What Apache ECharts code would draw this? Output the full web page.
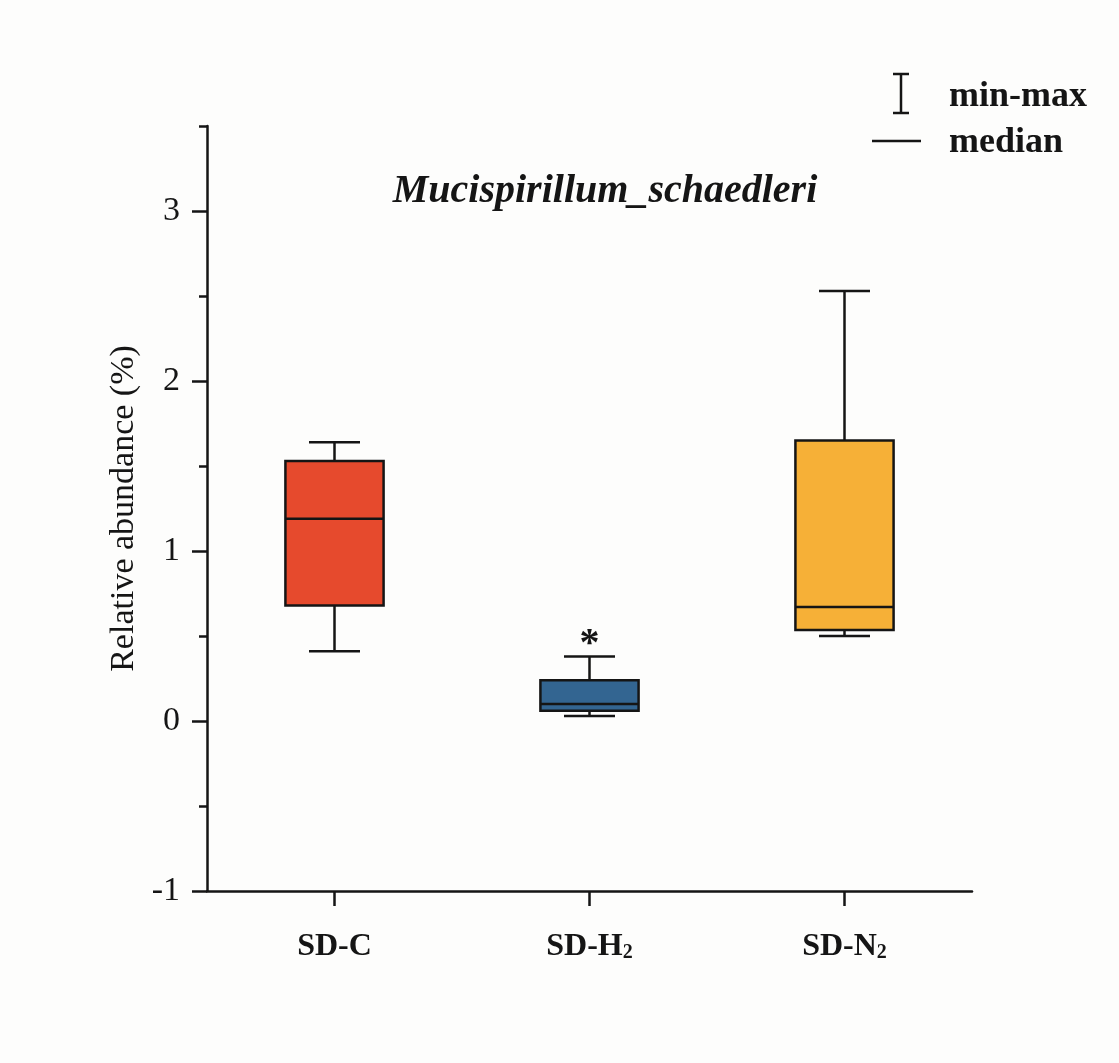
<!DOCTYPE html>
<html>
<head>
<meta charset="utf-8">
<script src="https://cdn.jsdelivr.net/npm/echarts@6/dist/echarts.min.js"></script>
<style>
html,body{margin:0;padding:0;background:#fdfdfc;}
#chart{width:1119px;height:1063px;}
</style>
</head>
<body>
<div id="chart"></div>
<script>
// ---- data ----
const categories = ['SD-C', 'SD-H2', 'SD-N2'];
const minVals    = [0.41, 0.03, 0.50];
const q1Vals     = [0.68, 0.06, 0.535];
const medianVals = [1.19, 0.10, 0.67];
const q3Vals     = [1.53, 0.24, 1.65];
const maxVals    = [1.64, 0.38, 2.53];
const significance = ['', '*', ''];
const boxColors = ['#E64A2D', '#336591', '#F6B037'];
const yMajorTicks = [-1, 0, 1, 2, 3];
const yMinorTicks = [-0.5, 0.5, 1.5, 2.5, 3.5];
const chartTitle = 'Mucispirillum_schaedleri';
const yAxisName = 'Relative abundance (%)';

const FONT = '"Liberation Serif", "Times New Roman", serif';
const INK = '#151515';

const boxData = categories.map((c, i) => [i, minVals[i], q1Vals[i], medianVals[i], q3Vals[i], maxVals[i]]);

const chart = echarts.init(document.getElementById('chart'));

function renderBox(params, api) {
  const idx = api.value(0);
  const band = api.size([1, 0])[0];
  const boxW = band * 0.385;
  const capW = band * 0.2;
  const pMin = api.coord([idx, api.value(1)]);
  const pQ1 = api.coord([idx, api.value(2)]);
  const pMed = api.coord([idx, api.value(3)]);
  const pQ3 = api.coord([idx, api.value(4)]);
  const pMax = api.coord([idx, api.value(5)]);
  const cx = pMin[0];
  const lineStyle = { stroke: INK, lineWidth: 2.5, fill: null };
  const children = [
    { type: 'line', shape: { x1: cx, y1: pMin[1], x2: cx, y2: pQ1[1] }, style: lineStyle },
    { type: 'line', shape: { x1: cx, y1: pQ3[1], x2: cx, y2: pMax[1] }, style: lineStyle },
    { type: 'line', shape: { x1: cx - capW / 2, y1: pMin[1], x2: cx + capW / 2, y2: pMin[1] }, style: lineStyle },
    { type: 'line', shape: { x1: cx - capW / 2, y1: pMax[1], x2: cx + capW / 2, y2: pMax[1] }, style: lineStyle },
    { type: 'rect', shape: { x: cx - boxW / 2, y: pQ3[1], width: boxW, height: pQ1[1] - pQ3[1] },
      style: { fill: boxColors[idx], stroke: INK, lineWidth: 2.5 } },
    { type: 'line', shape: { x1: cx - boxW / 2, y1: pMed[1], x2: cx + boxW / 2, y2: pMed[1] }, style: lineStyle }
  ];
  if (significance[idx]) {
    children.push({ type: 'text', x: cx, y: pMax[1] + 8,
      style: { text: significance[idx], fill: INK, font: 'bold 40px ' + FONT, textAlign: 'center', textVerticalAlign: 'bottom' } });
  }
  return { type: 'group', children };
}

const subRich = {
  b: { fontFamily: FONT, fontWeight: 'bold', fontSize: 32, color: INK },
  s: { fontFamily: FONT, fontWeight: 'bold', fontSize: 20, color: INK, verticalAlign: 'bottom' }
};

const option = {
  backgroundColor: '#fdfdfc',
  animation: false,
  title: {
    text: chartTitle, left: 600, top: 167, textAlign: 'center',
    textStyle: { fontFamily: FONT, fontStyle: 'italic', fontWeight: 'bold', fontSize: 40, color: INK }
  },
  grid: { left: 207, right: 147, top: 126, bottom: 172, containLabel: false },
  xAxis: {
    type: 'category', data: categories, boundaryGap: true,
    axisLine: { show: true, onZero: false, lineStyle: { color: INK, width: 2.5 } },
    axisTick: { show: true, alignWithLabel: true, interval: 0, length: 15, lineStyle: { color: INK, width: 2.5 } },
    axisLabel: {
      margin: 40,
      interval: 0,
      formatter: function (v) {
        const m = v.match(/^(.*?)(\d)$/);
        return m ? '{b|' + m[1] + '}{s|' + m[2] + '}' : '{b|' + v + '}';
      },
      rich: subRich
    },
    splitLine: { show: false }
  },
  yAxis: [
    {
      type: 'value', min: -1, max: 3.5, interval: 0.5, position: 'left',
      name: yAxisName, nameLocation: 'middle', nameGap: 63,
      nameTextStyle: { fontFamily: FONT, fontSize: 34, color: INK },
      axisLine: { show: true, lineStyle: { color: INK, width: 2.5 } },
      axisTick: { show: true, customValues: yMajorTicks, length: 15, lineStyle: { color: INK, width: 2.5 } },
      axisLabel: { customValues: yMajorTicks, margin: 27, fontFamily: FONT, fontSize: 34, color: INK },
      splitLine: { show: false }
    },
    {
      type: 'value', min: -1, max: 3.5, interval: 0.5, position: 'left',
      axisLine: { show: false },
      axisTick: { show: true, customValues: yMinorTicks, length: 8, lineStyle: { color: INK, width: 2.5 } },
      axisLabel: { show: false },
      splitLine: { show: false }
    }
  ],
  series: [{
    type: 'custom', name: 'box', renderItem: renderBox, data: boxData,
    encode: { x: 0, y: [1, 2, 3, 4, 5] }, clip: false
  }],
  graphic: [
    { type: 'line', shape: { x1: 901, y1: 74, x2: 901, y2: 113 }, style: { stroke: INK, lineWidth: 2.5 } },
    { type: 'line', shape: { x1: 893, y1: 74, x2: 909, y2: 74 }, style: { stroke: INK, lineWidth: 2.5 } },
    { type: 'line', shape: { x1: 893, y1: 113, x2: 909, y2: 113 }, style: { stroke: INK, lineWidth: 2.5 } },
    { type: 'line', shape: { x1: 872, y1: 141, x2: 921, y2: 141 }, style: { stroke: INK, lineWidth: 2.5 } },
    { type: 'text', x: 949, y: 97, style: { text: 'min-max', font: 'bold 36px ' + FONT, fill: INK, textVerticalAlign: 'middle' } },
    { type: 'text', x: 949, y: 143, style: { text: 'median', font: 'bold 36px ' + FONT, fill: INK, textVerticalAlign: 'middle' } }
  ]
};
chart.setOption(option);
</script>
</body>
</html>
